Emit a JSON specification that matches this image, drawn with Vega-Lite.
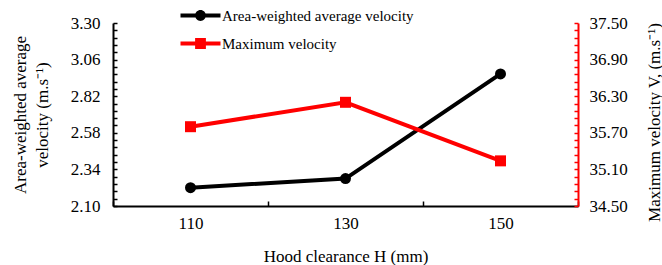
{
  "$schema": "https://vega.github.io/schema/vega-lite/v6.json",
  "width": 465,
  "height": 183,
  "autosize": "none",
  "padding": {"left": 113, "top": 23, "right": 84, "bottom": 59},
  "background": "white",
  "config": {
    "view": {"stroke": null},
    "font": "Liberation Serif",
    "axis": {"labelFont": "Liberation Serif", "titleFont": "Liberation Serif", "labelFontSize": 17, "titleFontSize": 17, "labelColor": "black", "titleColor": "black", "titleFontWeight": "normal", "grid": false, "domainWidth": 2, "tickWidth": 1.5, "labelOverlap": false, "labelFlush": false}
  },
  "data": {"values": [
    {"H": "110", "series": "Area-weighted average  velocity", "v": 2.22},
    {"H": "130", "series": "Area-weighted average  velocity", "v": 2.28},
    {"H": "150", "series": "Area-weighted average  velocity", "v": 2.966},
    {"H": "110", "series": "Maximum velocity", "v": 35.80},
    {"H": "130", "series": "Maximum velocity", "v": 36.20},
    {"H": "150", "series": "Maximum velocity", "v": 35.24}
  ]},
  "encoding": {
    "x": {"field": "H", "type": "ordinal", "scale": {"type": "band", "paddingInner": 0, "paddingOuter": 0},
      "axis": {"title": "Hood clearance H (mm)", "labelAngle": 0, "tickBand": "extent", "tickSize": -5, "domainColor": "black", "tickColor": "black", "labelPadding": 14, "titlePadding": 17, "labelFont": "Liberation Serif", "titleFont": "Liberation Serif"}}
  },
  "layer": [
    {
      "encoding": {
        "y": {"field": "v", "type": "quantitative", "scale": {"domain": [2.1, 3.3], "nice": false, "zero": false},
          "axis": {"title": ["Area-weighted average", "velocity (m.s⁻¹)"], "titleLineHeight": 22, "orient": "left",
            "values": [2.1, 2.148, 2.196, 2.244, 2.292, 2.34, 2.388, 2.436, 2.484, 2.532, 2.58, 2.628, 2.676, 2.724, 2.772, 2.82, 2.868, 2.916, 2.964, 3.012, 3.06, 3.108, 3.156, 3.204, 3.252, 3.3],
            "labelExpr": "indexof(['2.10','2.34','2.58','2.82','3.06','3.30'], format(datum.value,'.2f')) >= 0 ? format(datum.value,'.2f') : ''",
            "labelFont": "Liberation Serif", "titleFont": "Liberation Serif",
            "tickSize": -4, "labelPadding": 17, "titlePadding": 19, "domainColor": "black", "tickColor": "black"}}
      },
      "layer": [
        {"transform": [{"filter": "datum.series == 'Area-weighted average  velocity'"}],
         "mark": {"type": "line", "color": "black", "strokeWidth": 4}},
        {"transform": [{"filter": "datum.series == 'Area-weighted average  velocity'"}],
         "mark": {"type": "point", "shape": "circle", "filled": true, "color": "black", "size": 121, "opacity": 1}},
        {"mark": {"type": "point", "filled": true, "opacity": 0},
         "encoding": {
           "color": {"field": "series", "type": "nominal", "scale": {"domain": ["Area-weighted average  velocity", "Maximum velocity"], "range": ["black", "#ff0000"]},
             "legend": {"title": null, "orient": "none", "legendX": 66, "legendY": -15, "labelFontSize": 15, "labelFont": "Liberation Serif", "labelColor": "black", "labelLimit": 0, "symbolOpacity": 1, "symbolSize": 144, "labelOffset": 28, "rowPadding": 12, "symbolStrokeWidth": 0}},
           "shape": {"field": "series", "type": "nominal", "scale": {"domain": ["Area-weighted average  velocity", "Maximum velocity"], "range": ["M-1,-0.333H5.667V0.333H-1Z M1.433,0A0.9,0.9 0 1,1 3.233,0A0.9,0.9 0 1,1 1.433,0Z", "M-1,-0.333H5.667V0.333H-1Z M1.433,-0.9H3.233V0.9H1.433Z"]},
             "legend": {"title": null, "orient": "none", "legendX": 66, "legendY": -15, "labelFontSize": 15, "labelFont": "Liberation Serif", "labelColor": "black", "labelLimit": 0, "symbolOpacity": 1, "symbolSize": 144, "labelOffset": 28, "rowPadding": 12, "symbolStrokeWidth": 0}}
         }}
      ]
    },
    {
      "transform": [{"filter": "datum.series == 'Maximum velocity'"}],
      "encoding": {
        "y": {"field": "v", "type": "quantitative", "scale": {"domain": [34.5, 37.5], "nice": false, "zero": false},
          "axis": {"title": "Maximum velocity  V, (m.s⁻¹)", "orient": "right", "titleAngle": 270,
            "values": [34.5, 34.62, 34.74, 34.86, 34.98, 35.1, 35.22, 35.34, 35.46, 35.58, 35.7, 35.82, 35.94, 36.06, 36.18, 36.3, 36.42, 36.54, 36.66, 36.78, 36.9, 37.02, 37.14, 37.26, 37.38, 37.5],
            "labelExpr": "indexof(['34.50','35.10','35.70','36.30','36.90','37.50'], format(datum.value,'.2f')) >= 0 ? format(datum.value,'.2f') : ''",
            "labelFont": "Liberation Serif", "titleFont": "Liberation Serif", "labelAlign": "left",
            "tickSize": -4, "labelPadding": 15, "domainColor": "#ff0000", "tickColor": "#ff0000",
            "titleX": 76, "titleY": 99, "titleAlign": "center", "titleBaseline": "middle"}}
      },
      "layer": [
        {"mark": {"type": "line", "color": "#ff0000", "strokeWidth": 4}},
        {"mark": {"type": "point", "shape": "square", "filled": true, "color": "#ff0000", "size": 121, "opacity": 1}}
      ]
    }
  ],
  "resolve": {"scale": {"y": "independent"}}
}
